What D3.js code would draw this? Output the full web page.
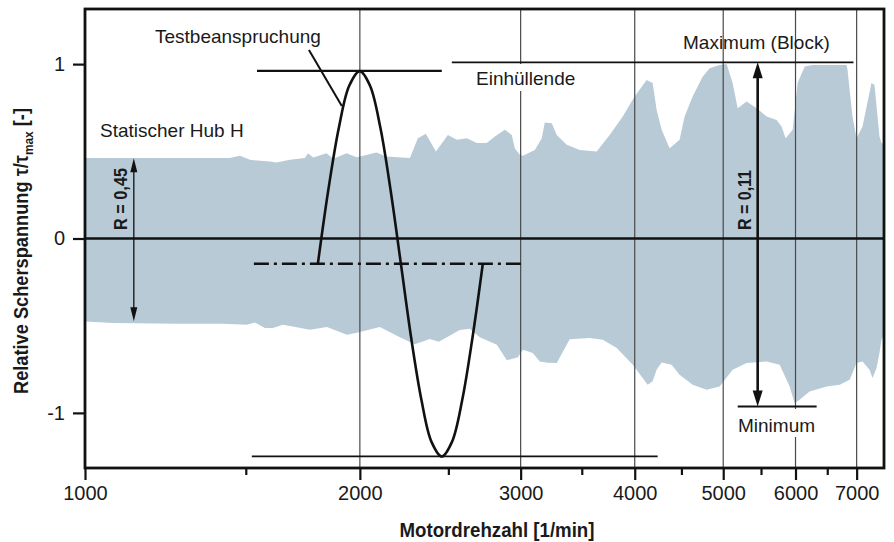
<!DOCTYPE html>
<html>
<head>
<meta charset="utf-8">
<script src="https://cdn.jsdelivr.net/npm/d3@7"></script>
<style>
  body { margin: 0; background: #fff; }
  svg { display: block; }
  text { font-family: "Liberation Sans", Arial, sans-serif; fill: #1a1a1a; }
</style>
</head>
<body>
<script>
const svgWidth = 894
const svgHeight = 542

const margin = { top: 9, right: 10, bottom: 74, left: 85 }

// x ticks (rpm)
const majorTicks = [1000, 2000, 3000, 4000, 5000, 6000, 7000]
const minorTicks = [1500, 2500, 3500, 4500, 5500, 6500]
const gridTicks = [2000, 3000, 4000, 5000, 6000, 7000]
const yTicks = [-1, 0, 1]

// envelope of the measured load, [rpm, tau/tau_max]
const upperEnvelope = [
  [1000,0.461],[1120,0.461],[1270,0.461],[1441,0.461],[1478,0.474],[1516,0.451],[1594,0.441],
  [1621,0.436],[1676,0.451],[1741,0.461],[1755,0.489],[1778,0.465],[1839,0.489],[1870,0.457],
  [1934,0.489],[1984,0.466],[2086,0.493],[2139,0.470],[2269,0.461],[2315,0.575],[2362,0.600],
  [2423,0.499],[2497,0.594],[2554,0.566],[2619,0.575],[2686,0.547],[2754,0.547],[2811,0.585],
  [2883,0.623],[2934,0.594],[2956,0.518],[2994,0.480],[3017,0.474],[3109,0.508],[3164,0.575],
  [3188,0.665],[3245,0.661],[3286,0.594],[3370,0.537],[3482,0.508],[3634,0.499],[3755,0.594],
  [3881,0.699],[3999,0.814],[4122,0.909],[4185,0.891],[4227,0.738],[4281,0.623],[4368,0.518],
  [4479,0.566],[4536,0.699],[4629,0.814],[4747,0.928],[4832,0.976],[4955,0.995],[5043,1.0],
  [5120,0.891],[5186,0.747],[5304,0.785],[5440,0.747],[5579,0.699],[5721,0.680],[5793,0.642],
  [5852,0.575],[5957,0.623],[6032,0.891],[6140,0.986],[6264,0.995],[6824,0.995],[6841,0.967],
  [6927,0.699],[6998,0.575],[7104,0.642],[7267,0.891],[7322,0.88],[7415,0.585],[7453,0.547],
  [7500,0.54]
]

const lowerEnvelope = [
  [1000,-0.476],[1073,-0.485],[1270,-0.489],[1416,-0.489],[1504,-0.495],[1535,-0.481],[1574,-0.513],
  [1606,-0.513],[1647,-0.495],[1689,-0.504],[1763,-0.523],[1840,-0.508],[1936,-0.552],[1985,-0.540],
  [2103,-0.508],[2212,-0.566],[2297,-0.606],[2386,-0.577],[2441,-0.592],[2573,-0.525],[2639,-0.517],
  [2706,-0.566],[2797,-0.599],[2825,-0.609],[2897,-0.698],[2979,-0.681],[3017,-0.638],[3093,-0.657],
  [3148,-0.705],[3212,-0.712],[3286,-0.714],[3395,-0.578],[3571,-0.571],[3690,-0.581],[3823,-0.628],
  [3980,-0.724],[4133,-0.838],[4185,-0.819],[4227,-0.752],[4281,-0.711],[4390,-0.724],[4479,-0.781],
  [4629,-0.838],[4795,-0.867],[4955,-0.848],[5120,-0.752],[5304,-0.714],[5579,-0.705],[5765,-0.724],
  [5912,-0.848],[5986,-0.943],[6062,-0.924],[6217,-0.877],[6490,-0.848],[6708,-0.838],[6878,-0.810],
  [6998,-0.714],[7104,-0.705],[7231,-0.752],[7286,-0.800],[7360,-0.743],[7415,-0.657],[7453,-0.581],
  [7500,-0.55]
]

// test load cycle (Testbeanspruchung)
const testCurve = [
  [1799,-0.145],[1847,0.278],[1897,0.636],[1947,0.876],[2000,0.96],[2052,0.876],[2106,0.636],
  [2161,0.278],[2218,-0.145],[2276,-0.568],[2336,-0.926],[2396,-1.166],[2459,-1.25],[2523,-1.166],
  [2589,-0.926],[2657,-0.568],[2727,-0.145]
]

// annotation lines
const peakLine = [[1543,0.961],[2459,0.961]]
const maxLine = [[2522,1.01],[6945,1.01]]
const troughLine = [[1523,-1.249],[4238,-1.249]]
const minLine = [[5186,-0.963],[6328,-0.963]]
const meanLine = [[1531,-0.145],[3039,-0.145]]
const pointerLine = [[1759,1.081],[1911,0.76]]
const zeroLine = [[1000,0],[7500,0]]
const staticArrow = { rpm: 1131, top: 0.46, bottom: -0.475 }
const blockArrow = { rpm: 5454, top: 1.01, bottom: -0.963 }

const svg = d3.select("body").append("svg")
  .attr("width", svgWidth)
  .attr("height", svgHeight)

const x = d3.scaleLog()
  .domain([1000, 7500])
  .range([margin.left, svgWidth - margin.right])

const y = d3.scaleLinear()
  .domain([-1.316, 1.316])
  .range([svgHeight - margin.bottom, margin.top])

const fill = "#b9cad7"

// envelope
const areaFn = d3.area()
  .x(d => x(d[0]))
  .y0(y(0))
  .y1(d => y(d[1]))

svg.append("path").datum(upperEnvelope).attr("d", areaFn).attr("fill", fill)
svg.append("path").datum(lowerEnvelope).attr("d", areaFn).attr("fill", fill)

// grid
svg.append("g").selectAll("line")
  .data(gridTicks)
  .join("line")
  .attr("x1", d => x(d)).attr("x2", d => x(d))
  .attr("y1", y.range()[1]).attr("y2", y.range()[0])
  .attr("stroke", "#4a4a4a")
  .attr("stroke-width", 1.2)

const line = d3.line().x(d => x(d[0])).y(d => y(d[1]))

svg.append("path").datum(zeroLine).attr("d", line)
  .attr("stroke", "#111").attr("stroke-width", 2.6)

// white boxes behind some labels
svg.append("rect").attr("x", 473).attr("y", 64).attr("width", 112).attr("height", 27).attr("fill", "#fff")
svg.append("rect").attr("x", 735).attr("y", 409).attr("width", 87).attr("height", 28).attr("fill", "#fff")

const drawLine = (data, width, dash) => {
  const p = svg.append("path").datum(data).attr("d", line)
    .attr("fill", "none").attr("stroke", "#111").attr("stroke-width", width)
  if (dash) p.attr("stroke-dasharray", dash)
  return p
}

drawLine(maxLine, 1.6)
drawLine(peakLine, 2.2)
drawLine(troughLine, 1.8)
drawLine(minLine, 2)
drawLine(meanLine, 2.6, "15,5,3,5")
drawLine(pointerLine, 2)

svg.append("path").datum(testCurve)
  .attr("d", d3.line().x(d => x(d[0])).y(d => y(d[1])).curve(d3.curveCatmullRom))
  .attr("fill", "none").attr("stroke", "#111").attr("stroke-width", 2.6)

// arrows
const arrow = (a, width, headLen, headW) => {
  const ax = x(a.rpm), yTop = y(a.top), yBot = y(a.bottom)
  svg.append("line")
    .attr("x1", ax).attr("x2", ax)
    .attr("y1", yTop + headLen - 1).attr("y2", yBot - headLen + 1)
    .attr("stroke", "#111").attr("stroke-width", width)
  svg.append("path")
    .attr("d", `M${ax},${yTop}L${ax - headW / 2},${yTop + headLen}L${ax + headW / 2},${yTop + headLen}Z`)
    .attr("fill", "#111")
  svg.append("path")
    .attr("d", `M${ax},${yBot}L${ax - headW / 2},${yBot - headLen}L${ax + headW / 2},${yBot - headLen}Z`)
    .attr("fill", "#111")
}
arrow(staticArrow, 1.3, 14, 7)
arrow(blockArrow, 2.6, 16, 10)

// labels
const label = (txt, lx, ly) => svg.append("text")
  .attr("x", lx).attr("y", ly)
  .attr("font-size", 19)
  .text(txt)

label("Testbeanspruchung", 155, 43)
label("Einhüllende", 476, 85)
label("Statischer Hub H", 100, 137)
label("Maximum (Block)", 683, 49)
label("Minimum", 738, 432)

const rLabel = (txt, cx, cy, len) => svg.append("text")
  .attr("transform", `translate(${cx},${cy}) rotate(-90)`)
  .attr("text-anchor", "middle")
  .attr("font-size", 19)
  .attr("font-weight", "bold")
  .attr("textLength", len)
  .attr("lengthAdjust", "spacingAndGlyphs")
  .text(txt)

rLabel("R = 0,45", 127, 199, 62)
rLabel("R = 0,11", 751, 200, 60)

// axes
const xAxis = d3.axisBottom(x)
  .tickValues(majorTicks)
  .tickSize(12)
  .tickPadding(6)
  .tickFormat(d => String(d))

const xAxisG = svg.append("g")
  .attr("transform", `translate(0, ${y.range()[0]})`)
  .call(xAxis)

const xMinor = d3.axisBottom(x)
  .tickValues(minorTicks)
  .tickSize(7)
  .tickFormat("")

svg.append("g")
  .attr("transform", `translate(0, ${y.range()[0]})`)
  .call(xMinor)

const yAxis = d3.axisLeft(y)
  .tickValues(yTicks)
  .tickSize(12)
  .tickPadding(8)
  .tickFormat(d => String(d))

svg.append("g")
  .attr("transform", `translate(${x.range()[0]}, 0)`)
  .call(yAxis)

svg.selectAll(".domain").remove()
svg.selectAll(".tick line").attr("stroke", "#111").attr("stroke-width", 2.2)
svg.selectAll(".tick text")
  .attr("font-family", "Liberation Sans, Arial, sans-serif")
  .attr("font-size", 20)
  .attr("fill", "#222")

// frame
svg.append("rect")
  .attr("x", x.range()[0]).attr("y", y.range()[1])
  .attr("width", x.range()[1] - x.range()[0])
  .attr("height", y.range()[0] - y.range()[1])
  .attr("fill", "none")
  .attr("stroke", "#111")
  .attr("stroke-width", 2.8)

// axis titles
svg.append("text")
  .attr("x", 497).attr("y", 537)
  .attr("text-anchor", "middle")
  .attr("font-size", 20)
  .attr("font-weight", "bold")
  .attr("textLength", 195)
  .attr("lengthAdjust", "spacingAndGlyphs")
  .text("Motordrehzahl [1/min]")

const yTitle = svg.append("text")
  .attr("transform", "translate(28, 251) rotate(-90)")
  .attr("text-anchor", "middle")
  .attr("font-size", 20)
  .attr("font-weight", "bold")
  .attr("textLength", 286)
  .attr("lengthAdjust", "spacingAndGlyphs")
yTitle.append("tspan").text("Relative Scherspannung τ/τ")
yTitle.append("tspan").attr("font-size", 13).attr("dy", 5).text("max")
yTitle.append("tspan").attr("dy", -5).text(" [-]")
</script>
</body>
</html>
